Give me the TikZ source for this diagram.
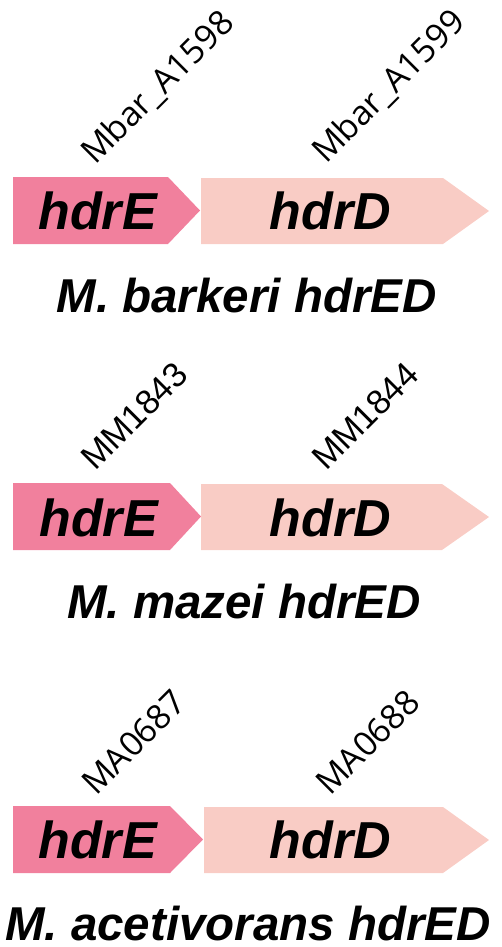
\documentclass[tikz,border=0pt]{standalone}
\usepackage{fontspec}
\setmainfont{Liberation Sans}
\newfontfamily\locusfont{Open Sans}
\newfontfamily\locusfontb{Liberation Sans}
\definecolor{geneE}{RGB}{241,128,157}
\definecolor{geneD}{RGB}{249,204,197}
\tikzset{
  genename/.style={font=\fontsize{52}{52}\selectfont\bfseries\itshape, inner sep=0pt, anchor=base},
  speciestitle/.style={font=\fontsize{47.5}{48}\selectfont\bfseries\itshape, inner sep=0pt, anchor=base},
  locus/.style={font=\fontsize{34}{34}\selectfont\locusfont, inner sep=0pt, anchor=base west, rotate=45},
  locusb/.style={font=\fontsize{34.5}{34}\selectfont\locusfontb, inner sep=0pt, anchor=base west, rotate=45},
}
\newcommand\genearrow[6]{% colour, x0, x1, shoulder, ytop, ybot
  \fill[#1] (#2,#5) -- (#4,#5) -- (#3,{(#5+#6)/2}) -- (#4,#6) -- (#2,#6) -- cycle;}
\begin{document}
\begin{tikzpicture}[x=1pt,y=-1pt]
\useasboundingbox (0,0) rectangle (501,947);
% Row 1
\genearrow{geneE}{13}{200}{168}{177}{244}
\genearrow{geneD}{201}{489}{443}{178}{244}
\node[genename] (e1) at (97.5,229) {hdrE};
\node[genename] (d1) at (330.5,229) {hdrD};
\node[locus] (l1a) at (95,166) {Mbar\_A1598};
\node[locus] (l1b) at (326,165) {Mbar\_A1599};
\node[speciestitle] (t1) at (246.5,312) {M. barkeri hdrED};
% Row 2
\genearrow{geneE}{13}{201}{170}{483}{550}
\genearrow{geneD}{201}{489}{442}{484}{550}
\node[genename] (e2) at (98.5,536) {hdrE};
\node[genename] (d2) at (330.5,536) {hdrD};
\node[locusb] (l2a) at (95,472) {MM1843};
\node[locusb] (l2b) at (326,472) {MM1844};
\node[speciestitle] (t2) at (244,618) {M. mazei hdrED};
% Row 3
\genearrow{geneE}{13}{203}{170}{806}{873}
\genearrow{geneD}{204}{489}{443}{807}{873}
\node[genename] (e3) at (97.5,858) {hdrE};
\node[genename] (d3) at (330.5,858) {hdrD};
\node[locus] (l3a) at (96,797) {MA0687};
\node[locus] (l3b) at (330,797) {MA0688};
\node[speciestitle] (t3) at (248,940) {M. acetivorans hdrED};
\end{tikzpicture}
\end{document}
